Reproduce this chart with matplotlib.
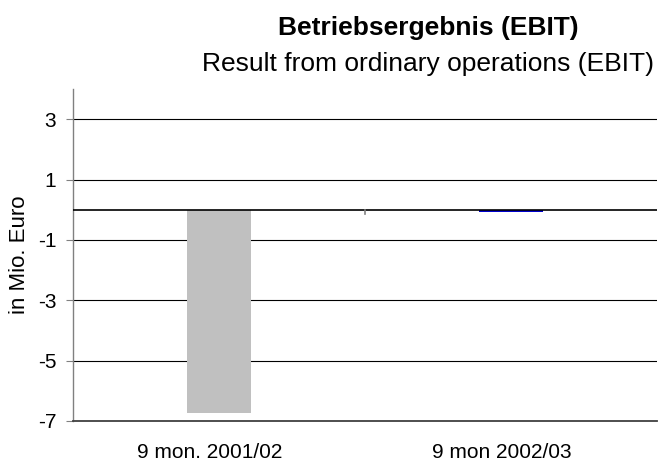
import matplotlib
matplotlib.use('Agg')
import matplotlib.pyplot as plt
from matplotlib.transforms import ScaledTranslation

plt.rcParams['font.family'] = ['Liberation Sans', 'DejaVu Sans']

categories = ['9 mon. 2001/02', '9 mon 2002/03']
values = [-6.73, -0.07]
bar_colors = ['#C0C0C0', '#0000CC']
y_ticks = [3, 1, -1, -3, -5, -7]

fig = plt.figure(figsize=(6.59, 4.61), dpi=100)
ax = fig.add_axes([0.1108, 0.0868, 0.886, 0.7202])

x = list(range(len(categories)))
ax.bar(x, values, width=0.22, color=bar_colors, zorder=3)

ax.set_xlim(-0.5, 1.5)
ax.set_ylim(-7, 4)
ax.set_yticks(y_ticks)
ax.set_yticklabels([str(t) for t in y_ticks], fontsize=15)
ax.set_xticks(x)
ax.set_xticklabels(categories, fontsize=15)
ax.tick_params(axis='x', length=0, pad=16)
ax.tick_params(axis='y', length=5, width=0.8, color='#808080', pad=7)

# category labels sit a little left of the bar centres in the original
shift = ScaledTranslation(-9 / 100, 0, fig.dpi_scale_trans)
for lbl in ax.get_xticklabels():
    lbl.set_transform(lbl.get_transform() + shift)

for t in [3, 1, -1, -3, -5]:
    ax.axhline(t, color='black', lw=0.8, zorder=1)
ax.axhline(0, color='black', lw=1.2, zorder=4)
# small separator tick between categories on the zero line
ax.plot([0.5, 0.5], [0, -0.15], color='#808080', lw=1.2, zorder=4)

for s in ['top', 'right']:
    ax.spines[s].set_visible(False)
ax.spines['left'].set_color('#808080')
ax.spines['left'].set_linewidth(1.0)
ax.spines['bottom'].set_color('#404040')
ax.spines['bottom'].set_linewidth(1.3)

ax.set_ylabel('in Mio. Euro', fontsize=16, labelpad=6)

fig.text(0.6495, 1 - 35 / 461, 'Betriebsergebnis (EBIT)', fontsize=19, fontweight='bold',
         ha='center', va='baseline')
fig.text(0.6495, 1 - 71 / 461, 'Result from ordinary operations (EBIT)', fontsize=19,
         ha='center', va='baseline')

fig.savefig('out.png', dpi=100, facecolor='white')
